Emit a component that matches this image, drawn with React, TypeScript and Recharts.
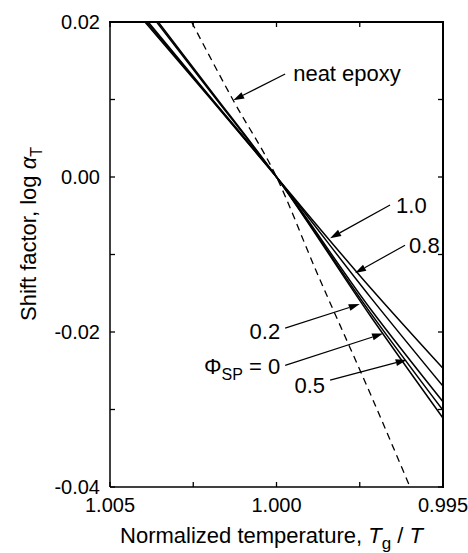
import React from 'react';
import { LineChart, Line, XAxis, YAxis, ReferenceLine } from 'recharts';

// axis ticks (x axis runs from 1.005 on the left to 0.995 on the right)
const xTicks = [1.005, 1.0025, 1.0, 0.9975, 0.995];
const xTickLabels = ['1.005', '', '1.000', '', '0.995'];
const yTicks = [0.02, 0.01, 0, -0.01, -0.02, -0.03, -0.04];
const yTickLabels = ['0.02', '', '0.00', '', '-0.02', '', '-0.04'];

// shift factor curves, x = Tg / T, y = log aT
const phi10 = [
  { x: 1.00395, y: 0.02 }, { x: 1.002, y: 0.0102 }, { x: 1.0, y: 0 },
  { x: 0.9972, y: -0.0142 }, { x: 0.995, y: -0.0247 },
];
const phi08 = [
  { x: 1.0039, y: 0.02 }, { x: 1.002, y: 0.0103 }, { x: 1.0, y: 0 },
  { x: 0.9972, y: -0.0154 }, { x: 0.995, y: -0.027 },
];
const phi02 = [
  { x: 1.00385, y: 0.02 }, { x: 1.002, y: 0.0104 }, { x: 1.0, y: 0 },
  { x: 0.9972, y: -0.0169 }, { x: 0.995, y: -0.029 },
];
const phi00 = [
  { x: 1.0036, y: 0.02 }, { x: 1.002, y: 0.0111 }, { x: 1.0, y: 0 },
  { x: 0.9972, y: -0.0174 }, { x: 0.995, y: -0.0301 },
];
const phi05 = [
  { x: 1.00355, y: 0.02 }, { x: 1.002, y: 0.0113 }, { x: 1.0, y: 0 },
  { x: 0.9972, y: -0.0178 }, { x: 0.995, y: -0.0311 },
];
const neatEpoxy = [
  { x: 1.00255, y: 0.02 }, { x: 1.0013, y: 0.0099 }, { x: 1.0, y: 0 },
  { x: 0.99884, y: -0.0118 }, { x: 0.99714, y: -0.0284 }, { x: 0.99599, y: -0.04 },
];

// arrow annotations: from (x1,y1) to tip (x2,y2), text offset in px from the tail
const notes = [
  { key: 'neat', x1: 0.99974, y1: 0.0133, x2: 1.0013, y2: 0.0099, dx: 8, dy: 7, anchor: 'start', text: 'neat epoxy' },
  { key: 'p10', x1: 0.99659, y1: -0.0036, x2: 0.99839, y2: -0.0079, dx: 6, dy: 8, anchor: 'start', text: '1.0' },
  { key: 'p08', x1: 0.99614, y1: -0.0088, x2: 0.99764, y2: -0.0124, dx: 4, dy: 8, anchor: 'start', text: '0.8' },
  { key: 'p02', x1: 0.99974, y1: -0.0195, x2: 0.9975, y2: -0.0164, dx: -5, dy: 11, anchor: 'end', text: '0.2' },
  { key: 'p00', x1: 0.99974, y1: -0.0243, x2: 0.9968, y2: -0.0202, dx: -5, dy: 9, anchor: 'end', text: 'phi' },
  { key: 'p05', x1: 0.99839, y1: -0.0262, x2: 0.99609, y2: -0.0236, dx: -5, dy: 13, anchor: 'end', text: '0.5' },
];

const FONT = 'Liberation Sans, Arial, Helvetica, sans-serif';
const TICK = 5;
const W = 468;
const H = 553;
const Y_AXIS_W = 110;
const X_AXIS_H = 66;
const MARGIN = { top: 22, right: 25, bottom: 0, left: 0 };
const PLOT = {
  left: MARGIN.left + Y_AXIS_W,
  top: MARGIN.top,
  right: W - MARGIN.right,
  bottom: H - MARGIN.bottom - X_AXIS_H,
};
const X_MARGIN = 11;
const Y_MARGIN = 10;

const labelFor = (ticks: number[], labels: string[], v: number) => labels[ticks.indexOf(v)] ?? '';

const BottomTick = (props: any) => {
  const { x, y, payload } = props;
  const axisY = y - X_MARGIN;
  return (
    <g>
      <line x1={x} y1={axisY} x2={x} y2={axisY - TICK} stroke="#000" strokeWidth={1.3} />
      <text x={x} y={y} dy="0.71em" textAnchor="middle" fontSize={20} fill="#000" fontFamily={FONT}>
        {labelFor(xTicks, xTickLabels, payload.value)}
      </text>
    </g>
  );
};

const LeftTick = (props: any) => {
  const { x, y, payload } = props;
  const axisX = x + Y_MARGIN;
  return (
    <g>
      <line x1={axisX} y1={y} x2={axisX + TICK} y2={y} stroke="#000" strokeWidth={1.3} />
      <text x={x} y={y} dy="0.355em" textAnchor="end" fontSize={20} fill="#000" fontFamily={FONT}>
        {labelFor(yTicks, yTickLabels, payload.value)}
      </text>
    </g>
  );
};

const XTitle = (props: any) => {
  const vb = props.viewBox;
  return (
    <text x={vb.x + vb.width / 2 - 5} y={vb.y + 56} textAnchor="middle" fontSize={22} fill="#000" fontFamily={FONT}>
      Normalized temperature,{' '}
      <tspan fontStyle="italic">T</tspan>
      <tspan fontSize={17} dy={6}>g</tspan>
      <tspan dy={-6}>{'  /  '}</tspan>
      <tspan fontStyle="italic">T</tspan>
    </text>
  );
};

const YTitle = (props: any) => {
  const vb = props.viewBox;
  const cx = vb.x + 28;
  const cy = 234;
  return (
    <text x={cx} y={cy} dy="0.35em" transform={`rotate(-90 ${cx} ${cy})`} textAnchor="middle" fontSize={22} fill="#000" fontFamily={FONT}>
      Shift factor, log <tspan fontStyle="italic">α</tspan>
      <tspan fontSize={16} dy={6}>T</tspan>
    </text>
  );
};

const arrowShape = (n: any) => (p: any) => {
  const { x1, y1, x2, y2 } = p;
  const ang = Math.atan2(y2 - y1, x2 - x1);
  const len = 11;
  const half = 3.5;
  const bx = x2 - len * Math.cos(ang);
  const by = y2 - len * Math.sin(ang);
  const pts = [
    [x2, y2],
    [bx + half * Math.sin(ang), by - half * Math.cos(ang)],
    [bx - half * Math.sin(ang), by + half * Math.cos(ang)],
  ].map((q) => q.join(',')).join(' ');
  return (
    <g>
      <line x1={x1} y1={y1} x2={bx} y2={by} stroke="#000" strokeWidth={1.2} />
      <polygon points={pts} fill="#000" />
      <text x={x1 + n.dx} y={y1 + n.dy} textAnchor={n.anchor} fontSize={22} fill="#000" fontFamily={FONT}>
        {n.text === 'phi' ? (
          <>
            Φ<tspan fontSize={16} dy={6}>SP</tspan>
            <tspan dy={-6}> = 0</tspan>
          </>
        ) : (
          n.text
        )}
      </text>
    </g>
  );
};

// top and right frame edges (css border) with inward ticks, laid over the chart
const Frame = () => {
  const xPx = (v: number) =>
    PLOT.left + ((xTicks[0] - v) / (xTicks[0] - xTicks[xTicks.length - 1])) * (PLOT.right - PLOT.left);
  const yPx = (v: number) =>
    PLOT.top + ((yTicks[0] - v) / (yTicks[0] - yTicks[yTicks.length - 1])) * (PLOT.bottom - PLOT.top);
  return (
    <>
      <div
        style={{
          position: 'absolute',
          left: PLOT.left - 1,
          top: PLOT.top - 1,
          width: PLOT.right - PLOT.left,
          height: PLOT.bottom - PLOT.top,
          borderTop: '2px solid #000',
          borderRight: '2px solid #000',
          boxSizing: 'content-box',
          pointerEvents: 'none',
          zIndex: 5,
        }}
      />
      <svg width={W} height={H} style={{ position: 'absolute', left: 0, top: 0, pointerEvents: 'none', zIndex: 6 }}>
        {xTicks.map((v) => (
          <line key={`t${v}`} x1={xPx(v)} y1={PLOT.top} x2={xPx(v)} y2={PLOT.top + TICK} stroke="#000" strokeWidth={1.3} />
        ))}
        {yTicks.map((v) => (
          <line key={`r${v}`} x1={PLOT.right} y1={yPx(v)} x2={PLOT.right - TICK} y2={yPx(v)} stroke="#000" strokeWidth={1.3} />
        ))}
      </svg>
    </>
  );
};

const solid = [phi10, phi08, phi02, phi00, phi05];

export default function App() {
  return (
    <div style={{ position: 'absolute', left: 0, top: 0, width: W, height: H, background: '#fff', fontFamily: FONT }}>
      <LineChart width={W} height={H} margin={MARGIN}>
        <XAxis
          type="number"
          dataKey="x"
          domain={[xTicks[xTicks.length - 1], xTicks[0]]}
          reversed
          allowDataOverflow
          ticks={xTicks}
          interval={0}
          height={X_AXIS_H}
          tickSize={0}
          tickMargin={X_MARGIN}
          tick={<BottomTick />}
          axisLine={{ stroke: '#000', strokeWidth: 1.5 }}
          label={<XTitle />}
        />
        <YAxis
          type="number"
          domain={[yTicks[yTicks.length - 1], yTicks[0]]}
          allowDataOverflow
          ticks={yTicks}
          interval={0}
          width={Y_AXIS_W}
          tickSize={0}
          tickMargin={Y_MARGIN}
          tick={<LeftTick />}
          axisLine={{ stroke: '#000', strokeWidth: 1.5 }}
          label={<YTitle />}
        />
        {solid.map((d, i) => (
          <Line
            key={i}
            data={d}
            dataKey="y"
            type="monotone"
            stroke="#000"
            strokeWidth={1.5}
            dot={false}
            isAnimationActive={false}
          />
        ))}
        <Line
          data={neatEpoxy}
          dataKey="y"
          type="monotone"
          stroke="#000"
          strokeWidth={1.3}
          strokeDasharray="7 5"
          dot={false}
          isAnimationActive={false}
        />
        {notes.map((n) => (
          <ReferenceLine
            key={n.key}
            segment={[{ x: n.x1, y: n.y1 }, { x: n.x2, y: n.y2 }]}
            shape={arrowShape(n)}
          />
        ))}
      </LineChart>
      <Frame />
    </div>
  );
}
